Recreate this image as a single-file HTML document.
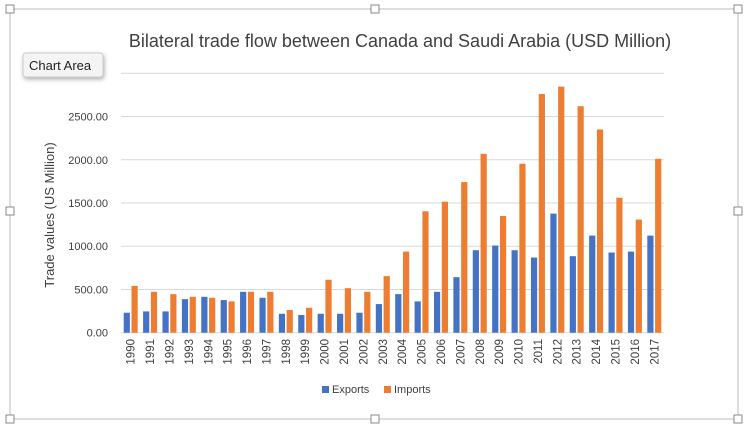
<!DOCTYPE html>
<html><head><meta charset="utf-8"><style>
body{margin:0;background:#fff;width:754px;height:430px;overflow:hidden;font-family:"Liberation Sans",sans-serif}
</style></head><body>
<svg id="c" width="754" height="430" xmlns="http://www.w3.org/2000/svg">
<rect x="10" y="9" width="728" height="410" fill="#fff" stroke="#bbb" stroke-width="1"/>
<g fill="#fff" stroke="#888" stroke-width="1">
<rect x="6" y="5" width="8" height="8"/><rect x="371" y="5" width="8" height="8"/><rect x="734" y="5" width="8" height="8"/>
<rect x="6" y="207" width="8" height="8"/><rect x="734" y="207" width="8" height="8"/>
<rect x="6" y="415" width="8" height="8"/><rect x="371" y="415" width="8" height="8"/><rect x="734" y="415" width="8" height="8"/>
</g>
<text x="400" y="47" text-anchor="middle" font-size="18" fill="#404040">Bilateral trade flow between Canada and Saudi Arabia (USD Million)</text>
<text transform="translate(54,215) rotate(-90)" text-anchor="middle" font-size="13" fill="#404040">Trade values (US Million)</text>
<g id="grid"></g><g id="bars"></g><g id="xl"></g>
<g>
<rect x="322" y="386" width="7" height="7" fill="#4472c4"/>
<text x="332" y="393" font-size="11" fill="#404040">Exports</text>
<rect x="384" y="386" width="7" height="7" fill="#ed7d31"/>
<text x="394" y="393" font-size="11" fill="#404040">Imports</text>
</g>
<g>
<rect x="23" y="53" width="80" height="24" rx="3" fill="#f4f4f4" stroke="#ccc" style="filter:drop-shadow(1px 2px 2px rgba(0,0,0,0.3))"/>
<text x="29" y="70" font-size="13" fill="#222">Chart Area</text>
</g>
</svg>
<script>
const years=["1990","1991","1992","1993","1994","1995","1996","1997","1998","1999","2000","2001","2002","2003","2004","2005","2006","2007","2008","2009","2010","2011","2012","2013","2014","2015","2016","2017"];
const exportsV=[231,246,246,388,415,377,473,404,219,204,219,219,231,331,446,362,473,642,954,1008,954,869,1377,885,1123,927,938,1123];
const importsV=[542,473,446,415,404,362,473,473,262,288,612,515,473,654,938,1404,1515,1742,2069,1350,1954,2761,2846,2619,2350,1561,1308,2011];
const ticks=[0,500,1000,1500,2000,2500,3000];
const tickLabels=["0.00","500.00","1000.00","1500.00","2000.00","2500.00",""];
const NS="http://www.w3.org/2000/svg";
const X0=121,X1=664,Y0=332.7,Y1=73.3,YMAX=3000;
const y=v=>Y0-(v/YMAX)*(Y0-Y1);
const band=(X1-X0)/years.length;
const x=i=>X0+i*band;
function mk(t,a,p){const e=document.createElementNS(NS,t);for(const k in a)e.setAttribute(k,a[k]);p.appendChild(e);return e;}
const grid=document.getElementById('grid');
ticks.forEach((t,i)=>{
 const l=mk('line',{x1:X0,x2:X1,y1:y(t),y2:y(t),stroke:'#d9d9d9','stroke-width':1},grid);
 
 
 const tx=mk('text',{x:108,y:y(t)+4,'text-anchor':'end','font-size':11,fill:'#404040'},grid);
 tx.textContent=tickLabels[i];
 
 
});
const bars=document.getElementById('bars'),xl=document.getElementById('xl');
const bw=6.2;
years.forEach((yr,i)=>{
 const cx=x(i)+band/2;
 const e=mk('rect',{x:cx-bw-0.8,y:y(exportsV[i]),width:bw,height:Y0-y(exportsV[i]),fill:'#4472c4'},bars);
 
 
 const m=mk('rect',{x:cx+0.8,y:y(importsV[i]),width:bw,height:Y0-y(importsV[i]),fill:'#ed7d31'},bars);
 
 
 const t=mk('text',{transform:`translate(${cx+4},339) rotate(-90)`,'text-anchor':'end','font-size':11.5,fill:'#404040'},xl);
 t.textContent=yr;
 
 
});
</script>
</body></html>
